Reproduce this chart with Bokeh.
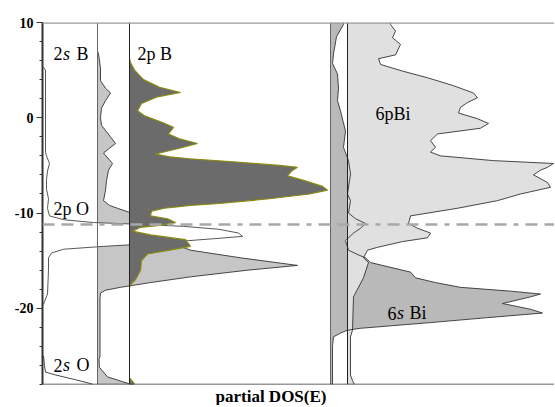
import numpy as np
from bokeh.plotting import figure
from bokeh.models import Range1d, FixedTicker, Span, Label, Title
from bokeh.embed import file_html
from bokeh.resources import INLINE

# ---- data: energies (eV) and partial DOS (arbitrary units) ----
E_2sB = [10, 7.0, 6.7, 5.2, 3.9, 3.1, 2.6, 1.8, 1.0, 0.0, -0.8, -1.6, -2.7, -3.7, -4.8, -5.5, -6.6, -7.6, -8.7, -9.2,
         -9.5, -9.9, -10.5, -11.3, -12.0, -13.0, -13.9, -14.7, -15.5, -16.0, -16.7, -17.3, -17.8, -18.1, -18.4, -19.0,
         -25.0, -25.4, -26.2, -27.2, -27.9, -28]
D_2sB = [0, 0, 1, 3, 3, 8, 13, 8, 4, 3, 4, 10, 18, 6, 15, 11, 9, 8, 6, 12,
         20, 31, 45, 55, 55, 70, 93, 143, 200, 150, 93, 53, 23, 8, 3, 2.5,
         2.5, 1.5, 2, 10, 31, 36]

E_2pB = [10, 6.2, 5.8, 5.0, 4.0, 3.2, 2.65, 2.2, 1.5, 0.73, 0.2, -0.5, -1.0, -1.7, -2.2, -2.7, -3.2, -3.8, -4.1, -4.3,
         -4.6, -5.0, -5.2, -5.6, -6.1, -6.6, -7.2, -7.6, -8.0, -8.5, -9.0, -9.2, -9.5, -9.8, -10.3, -10.6, -11.0, -11.3,
         -11.5, -11.9, -12.3, -12.8, -13.5, -13.9, -14.3, -15.0, -16.0, -17.0, -17.4, -17.8, -27.3, -27.8, -28]
D_2pB = [0, 0, 1, 5, 14, 30, 51, 28, 12, 8, 15, 33, 44, 39, 50, 68, 50, 26, 40, 60,
         100, 150, 168, 162, 158, 175, 193, 198, 180, 140, 90, 61, 35, 22, 21, 38, 46, 30,
         11, 3, 21, 56, 61, 40, 18, 12, 11, 6, 2, 0, 0, 4, 5]

E_2pO = [10, 5.3, 5.0, -3.6, -4.0, -4.8, -5.6, -6.5, -7.5, -8.5, -9.5, -10.3, -10.7, -11.0, -11.2, -11.4, -11.7, -12.1,
         -12.45, -12.7, -12.9, -13.2, -13.5, -13.8, -14.2, -14.7, -16.0, -18.5, -19.3, -19.6, -28]
D_2pO = [0, 0, 2, 2, 3, 6, 4, 3, 3, 5, 4, 6, 20, 50, 100, 140, 175, 195,
         199, 170, 145, 110, 60, 20, 8, 5, 5, 4, 1, 0, 0]

E_2sO = [10, -25.0, -26.0, -26.7, -27.0, -27.5, -27.9, -28]
D_2sO = [0, 0, 1, 2, 12, 32, 47, 50]

E_6sBi = [10, 9.8, 8.5, 6.7, 5.7, 4.6, 3.1, 1.8, 0.7, -1.4, -3.1, -4.5, -5.9, -8.0, -8.7, -10.0, -10.6, -11.1, -11.6,
          -12.1, -12.9, -13.9, -14.4, -14.7, -15.2, -16.2, -16.8, -17.3, -17.8, -18.2, -18.5, -18.8, -19.5, -20.1,
          -20.5, -21.0, -21.5, -22.1, -22.3, -22.6, -23.0, -24.0, -28]
D_6sBi = [13, 13, 6, 3, 2, 7, 8, 7, 10, 15, 13, 18, 20, 17, 20, 18, 25, 35, 30,
          23, 15, 18, 28, 35, 40, 80, 85, 105, 130, 180, 210, 200, 172, 200,
          212, 155, 100, 30, 17, 10, 3, 2, 2]

E_6pBi = [10, 9.8, 9.1, 8.4, 7.7, 6.6, 6.2, 5.6, 4.9, 4.2, 3.4, 2.6, 2.1, 1.6, 1.1, 0.5, -0.1, -0.6, -1.1, -1.7,
          -2.4, -3.1, -3.6, -4.0, -4.5, -4.8, -5.2, -5.5, -6.0, -6.8, -7.3, -8.0, -8.7, -9.5, -10.3, -11.1, -11.6,
          -12.1, -12.6, -13.0, -13.6, -13.9, -14.7, -15.2, -16.8, -18.8, -22.3, -23.0, -27.0, -27.6, -28]
D_6pBi = [43, 43, 48, 45, 53, 48, 31, 33, 55, 80, 105, 126, 130, 120, 113, 111, 130, 141, 133, 90,
          83, 88, 83, 93, 146, 206, 200, 193, 186, 200, 203, 173, 150, 110, 63, 61, 70,
          83, 80, 55, 30, 20, 16, 21, 16, 6, 5, 3, 3, 5, 7]

# panel zero lines (DOS offset of each partial DOS)
base_O, base_2sB, base_2pB, base_6sBi, base_6pBi = 1, 55, 87, 288, 305
fermi_like = -11.2

y_ticks = [-20, -10, 0, 10]
y_tick_labels = {-20: "-20", -10: "-10", 0: "0", 10: "10"}

SERIF = "Liberation Serif"

p = figure(width=554, height=405, output_backend="svg", toolbar_location=None,
           x_range=Range1d(0, 512), y_range=Range1d(-28, 10),
           x_axis_type=None, min_border_left=42, min_border_top=22,
           min_border_right=0, min_border_bottom=21)
p.xgrid.visible = False
p.ygrid.visible = False
p.outline_line_color = None
p.background_fill_color = "white"
p.border_fill_color = "white"

ax = p.yaxis[0]
ax.ticker = FixedTicker(ticks=y_ticks, minor_ticks=list(range(-28, 11, 2)))
ax.major_label_overrides = y_tick_labels
ax.major_label_text_font = SERIF
ax.major_label_text_font_style = "bold"
ax.major_label_text_font_size = "14px"
ax.major_label_text_color = "black"
ax.major_tick_out = 6
ax.major_tick_in = 0
ax.minor_tick_out = 3
ax.minor_tick_in = 0
ax.axis_line_width = 2
ax.axis_line_color = "#333333"
ax.major_tick_line_color = "#333333"
ax.minor_tick_line_color = "#333333"
ax.major_label_standoff = 3


def curve(E, D, base, fill, line, lw=1.0):
    E = np.asarray(E, float)
    D = np.asarray(D, float)
    b = np.full_like(E, base)
    if fill is not None:
        p.harea(x1=b, x2=b + D, y=E, fill_color=fill)
    if line is not None:
        # break the outline wherever the DOS lies on its zero line
        xs, ys = [], []
        for i in range(len(E)):
            xs.append(base + D[i])
            ys.append(E[i])
            if i + 1 < len(E) and D[i] == 0 and D[i + 1] == 0:
                xs.append(np.nan)
                ys.append(np.nan)
        p.line(x=xs, y=ys, line_color=line, line_width=lw)


# B and O panels
curve(E_2sB, D_2sB, base_2sB, "#c6c6c6", "#333333", 0.9)
curve(E_2sO, D_2sO, base_O, "white", "#333333", 0.9)
curve(E_2pO, D_2pO, base_O, "white", "#444444", 0.9)
curve(E_2pB, D_2pB, base_2pB, "#6b6b6b", "#8a8a10", 1.2)

# Bi panel
curve(E_6sBi, D_6sBi, base_6sBi, "#b9b9b9", None)
curve(E_6pBi, D_6pBi, base_6pBi, "#e0e0e0", "#333333", 0.9)
curve(E_6sBi, D_6sBi, base_6sBi, None, "#333333", 0.9)

for loc, col in [(base_2sB, "#666666"), (base_2pB, "#222222"), (base_6sBi, "#666666"), (base_6pBi, "#222222")]:
    p.add_layout(Span(location=loc, dimension="height", line_color=col, line_width=1))

p.add_layout(Span(location=fermi_like, dimension="width", line_color="#a8a8a8", line_width=2.5,
                  line_dash="12 7 12 7 12 7 5 7"))
p.add_layout(Span(location=10, dimension="width", line_color="#9a9a9a", line_width=2.5))
p.add_layout(Span(location=-28, dimension="width", line_color="#333333", line_width=1.5))


def lab(x, y, parts):
    off = 0
    for txt, style, dx in parts:
        p.add_layout(Label(x=x, y=y, x_offset=off, text=txt, text_font=SERIF, text_font_size="18px",
                           text_font_style=style, text_baseline="alphabetic", text_color="black"))
        off += dx


lab(11, 6.7, [("2", "normal", 9.5), ("s", "italic", 13.5), ("B", "normal", 0)])
lab(95, 6.7, [("2p B", "normal", 0)])
lab(11, -9.55, [("2p O", "normal", 0)])
lab(11, -26.0, [("2", "normal", 9.5), ("s", "italic", 13.5), ("O", "normal", 0)])
lab(333, 0.4, [("6pBi", "normal", 0)])
lab(345, -20.5, [("6", "normal", 9.5), ("s", "italic", 12.5), ("Bi", "normal", 0)])

t = Title(text="partial DOS(E)", align="left", offset=173, text_font=SERIF, text_font_size="17px",
          text_font_style="bold", standoff=0, text_color="black")
p.add_layout(t, "below")

open("out.html", "w").write(file_html(p, INLINE))
